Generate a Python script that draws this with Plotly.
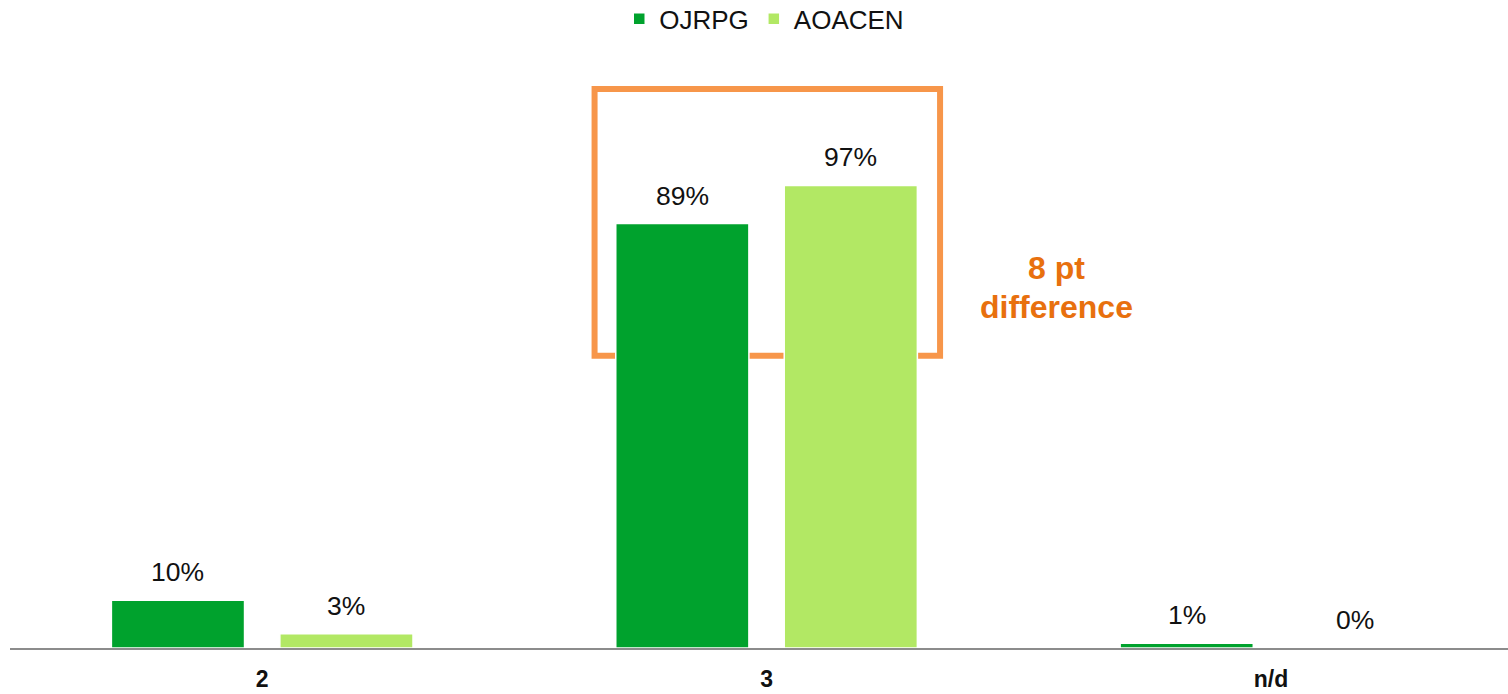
import plotly.graph_objects as go

# Response shares by category for the two groups
categories = ["2", "3", "n/d"]
ojrpg = [10, 89, 1]
aoacen = [3, 97, 0]
series_names = ["OJRPG", "AOACEN"]

DARK_GREEN = "#00A22D"
LIGHT_GREEN = "#B2E864"
ORANGE_LINE = "#F7964A"
ORANGE_TEXT = "#E8700E"
FONT = "Liberation Sans, Arial, Helvetica, sans-serif"

BAR_W = 0.264
OFFSETS = [-0.299, 0.035]
pos = list(range(len(categories)))

fig = go.Figure()
for name, vals, color, off in [
    (series_names[0], ojrpg, DARK_GREEN, OFFSETS[0]),
    (series_names[1], aoacen, LIGHT_GREEN, OFFSETS[1]),
]:
    fig.add_trace(go.Bar(
        x=pos, y=vals, name=name,
        width=BAR_W, offset=off,
        marker=dict(color=color, line=dict(color="white", width=1.5)),
        hoverinfo="skip",
    ))
    # value labels above each bar
    for p, v in zip(pos, vals):
        fig.add_annotation(
            x=p + off + BAR_W / 2, y=v, xref="x", yref="y",
            text=f"{v}%", showarrow=False, yanchor="bottom", yshift=11,
            font=dict(family=FONT, size=26.5, color="#111111"),
        )

# Bracket highlighting the gap in category "3"
fig.add_shape(
    type="rect", xref="x", yref="y", layer="below",
    x0=1 + OFFSETS[0] - 0.042, x1=1 + OFFSETS[1] + BAR_W + 0.045,
    y0=61.3, y1=117.2,
    line=dict(color=ORANGE_LINE, width=6), fillcolor="rgba(0,0,0,0)",
)
# Callout text, one line per annotation for tighter leading
for line_text, y_val in [(f"{aoacen[1] - ojrpg[1]} pt", 79.6), ("difference", 71.6)]:
    fig.add_annotation(
        x=1.575, y=y_val, xref="x", yref="y",
        text=f"<b>{line_text}</b>", showarrow=False,
        font=dict(family=FONT, size=32, color=ORANGE_TEXT),
        align="center", yanchor="middle",
    )

fig.update_layout(
    width=1508, height=694,
    margin=dict(l=10, r=0, t=60, b=46, autoexpand=False),
    plot_bgcolor="white", paper_bgcolor="white",
    barmode="overlay",
    font=dict(family=FONT, size=26, color="#111111"),
    showlegend=True,
    legend=dict(
        orientation="h", x=0.5035, xanchor="center",
        yref="container", y=0.973, yanchor="middle",
        font=dict(family=FONT, size=26, color="#111111"),
        traceorder="normal", tracegroupgap=0,
    ),
    xaxis=dict(
        range=[-0.5, 2.47], tickmode="array", tickvals=pos,
        ticktext=[f"<b>{c}</b>" for c in categories],
        tickfont=dict(family=FONT, size=23, color="#111111"),
        showline=True, linecolor="#8C8C8C", linewidth=1.5,
        showgrid=False, zeroline=False, ticks="",
        ticklabelstandoff=10, automargin=False,
    ),
    yaxis=dict(range=[0, 123.3], visible=False, showgrid=False, zeroline=False,
               automargin=False),
)

fig.write_html("out.html")
